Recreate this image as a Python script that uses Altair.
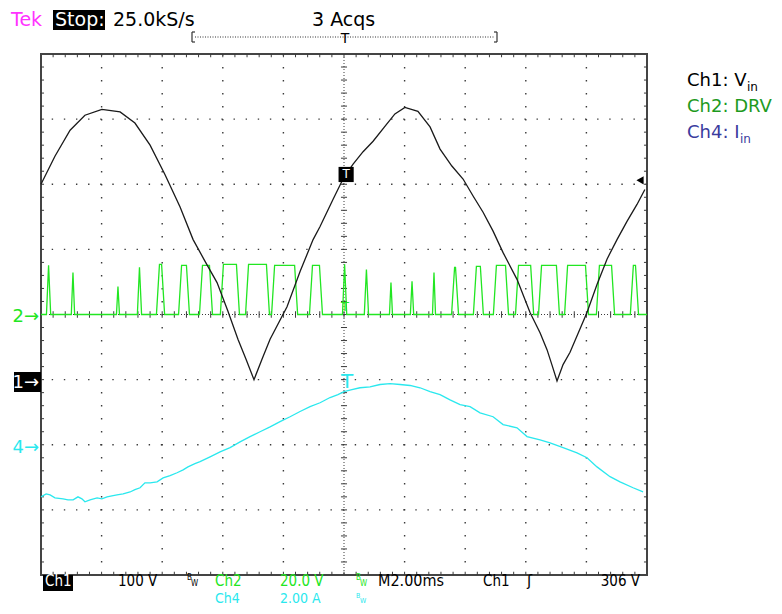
import altair as alt
import numpy as np
import pandas as pd

# Ch1 (black) : time in ms, volts (100 V/div, ground at -1 div)
ch1_t = [0.00, 0.46, 0.96, 1.45, 2.01, 2.61, 3.10, 3.60, 4.09, 4.59, 5.02, 5.41, 5.81, 6.17,
         6.50, 6.77, 7.03, 7.29, 7.56, 8.12, 8.55, 8.98, 9.21, 9.64, 10.00, 10.30, 10.63, 10.96,
         11.35, 11.68, 12.01, 12.44, 12.84, 13.17, 13.56, 13.93, 14.26, 14.59, 14.92, 15.25,
         15.71, 16.14, 16.47, 16.70, 16.86, 17.03, 17.23, 17.46, 18.02, 18.35, 18.68, 19.01,
         19.34, 19.67, 19.93]
ch1_v = [300, 343, 383, 406, 415, 411, 394, 360, 315, 265, 215, 182, 149, 105,
         62, 31, 0, 31, 62, 112, 166, 215, 235, 277, 311, 331, 350, 366,
         389, 408, 418, 412, 388, 354, 328, 308, 282, 257, 228, 195,
         154, 103, 72, 46, 23, -2, 23, 42, 103, 146, 185, 215,
         243, 269, 292]

# Ch2 (green) gate drive pulses: on time, off time (ms), high level (V) (20 V/div)
ch2_on = [0.20, 1.02, 2.51, 3.20, 3.86, 4.59, 5.28, 5.97, 6.80, 7.66, 8.91, 9.97,
          10.69, 11.52, 12.21, 12.94, 13.60, 14.32, 14.98, 15.71, 16.47, 17.33, 18.38, 19.50]
ch2_off = [0.30, 1.09, 2.57, 3.30, 4.03, 4.85, 5.61, 6.50, 7.49, 8.42, 9.24, 10.07,
           10.79, 11.58, 12.28, 13.00, 13.73, 14.55, 15.38, 16.21, 17.06, 18.02, 18.88, 19.67]
ch2_high = [15.1, 12.9, 8.6, 14.5, 15.4, 15.1, 15.1, 15.4, 15.4, 15.1, 15.1, 15.4,
            13.8, 9.8, 10.2, 12.9, 14.5, 14.8, 15.1, 15.1, 15.1, 15.1, 15.1, 15.1]

# Ch4 (cyan) input current: time in ms, amps (2 A/div, ground at -2 div)
ch4_t = [0.00, 0.17, 0.30, 0.46, 0.73, 0.89, 1.06, 1.22, 1.35, 1.45, 1.62, 1.85, 2.01, 2.18,
         2.34, 2.51, 2.71, 2.94, 3.10, 3.27, 3.43, 3.60, 3.83, 4.03, 4.26, 4.49, 4.69, 4.85,
         5.08, 5.25, 5.58, 5.91, 6.24, 6.57, 6.90, 7.23, 7.56, 7.89, 8.22, 8.55, 8.88, 9.21,
         9.54, 9.80, 10.00, 10.26, 10.53, 10.86, 11.19, 11.52, 11.85, 12.18, 12.51, 12.84,
         13.17, 13.50, 13.83, 14.16, 14.49, 14.92, 15.25, 15.71, 16.04, 16.47, 16.80, 17.23,
         17.69, 18.02, 18.35, 18.78, 19.11, 19.54, 19.87]
ch4_a = [-1.60, -1.51, -1.54, -1.63, -1.66, -1.69, -1.69, -1.60, -1.66, -1.75, -1.69, -1.63,
         -1.66, -1.60, -1.57, -1.54, -1.51, -1.45, -1.38, -1.32, -1.17, -1.17, -1.14, -1.02,
         -0.95, -0.86, -0.77, -0.68, -0.58, -0.52, -0.37, -0.22, -0.09, 0.09, 0.25, 0.40,
         0.55, 0.71, 0.86, 1.02, 1.17, 1.29, 1.45, 1.54, 1.63, 1.69, 1.75, 1.78, 1.85, 1.88,
         1.85, 1.82, 1.75, 1.63, 1.54, 1.38, 1.23, 1.17, 0.98, 0.86, 0.62, 0.52, 0.25, 0.15,
         0.06, -0.09, -0.25, -0.40, -0.68, -0.98, -1.14, -1.32, -1.45]

ch1_scale, ch1_pos = 100.0, -1.0
ch2_scale, ch2_pos = 20.0, 0.0
ch4_scale, ch4_pos = 2.0, -2.0
trig_level = 306.0
trig_time = 10.0

# ---------------- chart ----------------
W, H = 606, 521
xs = alt.Scale(domain=[0, 20], nice=False, zero=False)
ys = alt.Scale(domain=[-4, 4], nice=False, zero=False)


def X(f):
    return alt.X(f, type="quantitative", scale=xs, axis=None)


def Y(f):
    return alt.Y(f, type="quantitative", scale=ys, axis=None)


GRID = "#3a3a3a"
GREEN = "#22e622"
CYAN = "#2ae8ee"
MAGENTA = "#ff33ff"
SANS = "DejaVu Sans"
NARROW = "DejaVu Sans Condensed, Liberation Sans Narrow, DejaVu Sans"

layers = []

# graticule
layers.append(alt.Chart(pd.DataFrame({"t": [2, 4, 6, 8, 12, 14, 16, 18]}))
              .mark_rule(color=GRID, strokeWidth=1.4, strokeDash=[1.4, 11.6]).encode(x=X("t")))
layers.append(alt.Chart(pd.DataFrame({"d": [-3, -2, -1, 1, 2, 3]}))
              .mark_rule(color=GRID, strokeWidth=1.4, strokeDash=[1.4, 10.72]).encode(y=Y("d")))
layers.append(alt.Chart(pd.DataFrame({"t": [10]}))
              .mark_rule(color=GRID, strokeWidth=1, strokeDash=[1, 2]).encode(x=X("t")))
layers.append(alt.Chart(pd.DataFrame({"d": [0]}))
              .mark_rule(color=GRID, strokeWidth=1, strokeDash=[1, 2]).encode(y=Y("d")))

mx = np.round(np.arange(1, 50) * 0.4, 3)
my = np.round(np.arange(-19, 20) * 0.2, 3)
rows = []
for x in mx:
    rows += [(x, x, 4.0, 3.95), (x, x, -4.0, -3.95), (x, x, -0.05, 0.05)]
for y in my:
    rows += [(0.0, 0.1, y, y), (20.0, 19.9, y, y), (9.9, 10.1, y, y)]
tick_df = pd.DataFrame(rows, columns=["t", "t2", "d", "d2"])
layers.append(alt.Chart(tick_df).mark_rule(color=GRID, strokeWidth=1)
              .encode(x=X("t"), x2="t2", y=Y("d"), y2="d2"))

# Ch2 waveform from pulse edges (narrow ones drawn as spikes)
r = 0.05
pt, pv = [0.0], [0.0]
for a, b, h in zip(ch2_on, ch2_off, ch2_high):
    if b - a < 0.12:
        pt += [a - 0.02, (a + b) / 2, b + 0.02]
        pv += [0.0, h, 0.0]
    else:
        pt += [a - r, a + r, b - r, b + r]
        pv += [0.0, h, h, 0.0]
pt.append(20.0)
pv.append(0.0)
ch2_df = pd.DataFrame({"t": pt, "v": pv, "i": range(len(pt))})
layers.append(alt.Chart(ch2_df)
              .transform_calculate(d=f"datum.v/{ch2_scale}+({ch2_pos})")
              .mark_line(color=GREEN, strokeWidth=1.3)
              .encode(x=X("t"), y=Y("d"), order="i:Q"))

# Ch4
layers.append(alt.Chart(pd.DataFrame({"t": ch4_t, "a": ch4_a}))
              .transform_calculate(d=f"datum.a/{ch4_scale}+({ch4_pos})")
              .mark_line(color=CYAN, strokeWidth=1.3)
              .encode(x=X("t"), y=Y("d")))

# Ch1
layers.append(alt.Chart(pd.DataFrame({"t": ch1_t, "v": ch1_v}))
              .transform_calculate(d=f"datum.v/{ch1_scale}+({ch1_pos})")
              .mark_line(color="#1a1a1a", strokeWidth=1.3)
              .encode(x=X("t"), y=Y("d")))

# trigger markers
trig_df = pd.DataFrame({"t": [trig_time + 0.07], "v": [trig_level + 9]})
layers.append(alt.Chart(trig_df)
              .transform_calculate(d=f"datum.v/{ch1_scale}+({ch1_pos})")
              .mark_square(size=230, color="black", opacity=1)
              .encode(x=X("t"), y=Y("d")))
layers.append(alt.Chart(trig_df)
              .transform_calculate(d=f"datum.v/{ch1_scale}+({ch1_pos})", s="'T'")
              .mark_text(color="white", font=SANS, fontSize=12, baseline="middle")
              .encode(x=X("t"), y=Y("d"), text="s:N"))
lvl_df = pd.DataFrame({"t": [19.77], "v": [trig_level]})
layers.append(alt.Chart(lvl_df)
              .transform_calculate(d=f"datum.v/{ch1_scale}+({ch1_pos})")
              .mark_point(shape="triangle-left", filled=True, size=70, color="black", opacity=1)
              .encode(x=X("t"), y=Y("d")))


def txt(s, x, y, color="black", size=19, font=SANS, align="left", baseline="alphabetic",
        weight="normal"):
    return (alt.Chart(pd.DataFrame({"s": [s]}))
            .mark_text(align=align, baseline=baseline, font=font, fontSize=size,
                       color=color, fontWeight=weight)
            .encode(x=alt.value(x), y=alt.value(y), text="s:N"))


def box(x1, x2, y1, y2, color="black"):
    return (alt.Chart(pd.DataFrame({"a": [0]})).mark_rect(color=color)
            .encode(x=alt.value(x1), x2=alt.value(x2), y=alt.value(y1), y2=alt.value(y2)))


def seg(x1, x2, y1, y2, color="#333", dash=None, width=1.2):
    kw = dict(color=color, strokeWidth=width)
    if dash:
        kw["strokeDash"] = dash
    return (alt.Chart(pd.DataFrame({"a": [0]})).mark_rule(**kw)
            .encode(x=alt.value(x1), x2=alt.value(x2), y=alt.value(y1), y2=alt.value(y2)))


# small channel T markers
layers.append(txt("T", 306, 318, color=CYAN, size=20, align="center", baseline="top"))
layers.append(txt("T", 304, 247, color=GREEN, size=13, align="center", baseline="top"))

# header
layers.append(txt("Tek", -30, -28, color=MAGENTA))
layers.append(box(12, 64, -44, -24))
layers.append(txt("Stop:", 14, -28, color="white"))
layers.append(txt("25.0kS/s", 72, -28))
layers.append(txt("3 Acqs", 271, -28))
# record bracket
layers.append(seg(151, 151, -22, -12))
layers.append(seg(151, 154, -22, -22))
layers.append(seg(151, 154, -12, -12))
layers.append(seg(456, 456, -22, -12))
layers.append(seg(453, 456, -22, -22))
layers.append(seg(453, 456, -12, -12))
layers.append(seg(154, 453, -17, -17, dash=[1, 1.5], width=1))
layers.append(txt("T", 304, -11, size=14, align="center"))

# ground markers
layers.append(txt("2\u2192", -2, 268, color=GREEN, size=18, align="right"))
layers.append(box(-27, 0, 318, 338))
layers.append(txt("1\u2192", -2, 334, color="white", size=18, align="right"))
layers.append(txt("4\u2192", -2, 399, color=CYAN, size=18, align="right"))

# legend
LS = 18
layers.append(txt("Ch1: V", 646, 32, size=LS))
layers.append(txt("in", 706, 37, size=12))
layers.append(txt("Ch2: DRV", 646, 58, color="#1e9a1e", size=LS))
layers.append(txt("Ch4: I", 646, 84, color="#3b3b9e", size=LS))
layers.append(txt("in", 699, 89, size=12, color="#3b3b9e"))

# status line
R1, R2, FS = 532, 549, 13
layers.append(box(2, 32, 521, 537))
layers.append(txt("Ch1", 4, R1, color="white", size=FS + 2, font=NARROW))
layers.append(txt("100 V", 77, R1, size=FS + 2, font=NARROW))
layers.append(txt("B", 146, R1 - 6, size=8, font=NARROW))
layers.append(txt("W", 150, R1, size=8, font=NARROW))
layers.append(txt("Ch2", 174, R1, color=GREEN, size=FS + 2, font=NARROW))
layers.append(txt("20.0 V", 239, R1, color=GREEN, size=FS + 2, font=NARROW))
layers.append(txt("B", 315, R1 - 6, size=8, color=GREEN, font=NARROW))
layers.append(txt("W", 319, R1, size=8, color=GREEN, font=NARROW))
layers.append(txt("M2.00ms", 337, R1, size=FS + 3, font=NARROW))
layers.append(txt("Ch1", 442, R1, size=FS + 2, font=NARROW))
layers.append(txt("\u0283", 486, R1, size=FS + 2, font=SANS))
layers.append(txt("306 V", 599, R1, size=FS + 2, font=NARROW, align="right"))
layers.append(txt("Ch4", 174, R2, color=CYAN, size=FS + 1, font=NARROW))
layers.append(txt("2.00 A", 239, R2, color=CYAN, size=FS + 1, font=NARROW))
layers.append(txt("B", 315, R2 - 5, size=7, color=CYAN, font=NARROW))
layers.append(txt("W", 319, R2, size=7, color=CYAN, font=NARROW))

chart = (alt.layer(*layers)
         .properties(width=W, height=H,
                     padding={"left": 33, "top": 46, "right": 127, "bottom": 31},
                     autosize=alt.AutoSizeParams(type="none"),
                     background="white")
         .configure_view(stroke="#444", strokeWidth=2))

chart.save("out.html", embed_options={"renderer": "svg", "actions": False})
